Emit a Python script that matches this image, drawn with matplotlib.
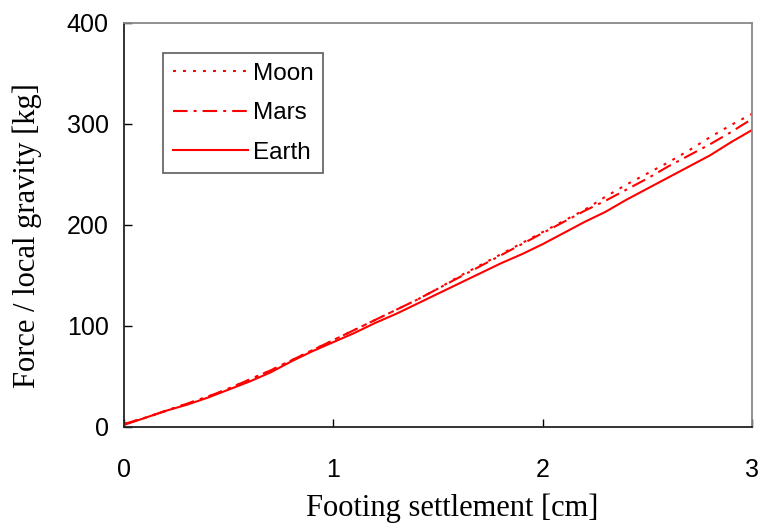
import matplotlib
matplotlib.use('Agg')
import matplotlib.pyplot as plt

# settlement [cm]
settlement = [0.0, 0.1, 0.2, 0.3, 0.4, 0.5, 0.6, 0.7, 0.8, 0.9, 1.0,
              1.1, 1.2, 1.3, 1.4, 1.5, 1.6, 1.7, 1.8, 1.9, 2.0,
              2.1, 2.2, 2.3, 2.4, 2.5, 2.6, 2.7, 2.8, 2.9, 3.0]

# force / local gravity [kg]
moon = [3, 9, 16, 23, 30, 38, 47, 56, 66, 76, 86,
        96, 106, 116, 126, 137, 149, 160, 171, 182, 193,
        204, 215, 228, 240, 251, 262, 274, 287, 299, 310]
mars = [3, 9, 16, 23, 30, 38, 47, 56, 66, 76, 86,
        96, 106, 116, 126, 137, 148, 159, 170, 181, 192,
        203, 214, 224, 235, 246, 258, 269, 280, 292, 305]
earth = [2, 9, 16, 22, 29, 37, 45, 54, 65, 75, 84,
         93, 103, 112, 122, 132, 142, 152, 162, 171, 181,
         192, 203, 213, 225, 236, 247, 258, 269, 282, 294]

fig = plt.figure(figsize=(7.63, 5.27), dpi=100)
ax = fig.add_axes([0.1625, 0.1898, 0.8231, 0.7666])

ax.plot(settlement, moon, color='red', lw=1.5, linestyle=(0, (1.4, 3.4)), label='Moon')
ax.plot(settlement, mars, color='red', lw=1.5, linestyle=(0, (7, 2.9, 1.4, 2.9)), label='Mars')
ax.plot(settlement, earth, color='red', lw=1.5, linestyle='-', label='Earth')

ax.set_xlim(0, 3)
ax.set_ylim(0, 400)
ax.set_xticks([0, 1, 2, 3])
ax.set_yticks([0, 100, 200, 300, 400])

ax.tick_params(direction='in', length=6, width=1, labelsize=18)
ax.tick_params(axis='x', pad=22)
ax.tick_params(axis='y', pad=11)
for lab in ax.get_xticklabels() + ax.get_yticklabels():
    lab.set_family('Liberation Sans')

ax.spines['left'].set_color('#222222')
ax.spines['bottom'].set_color('#222222')
ax.spines['top'].set_color('#888888')
ax.spines['right'].set_color('#888888')
for s in ax.spines.values():
    s.set_linewidth(1.3)

ax.set_xlabel('Footing settlement [cm]', family='Liberation Serif', fontsize=22)
ax.set_ylabel('Force / local gravity [kg]', family='Liberation Serif', fontsize=22)
ax.xaxis.set_label_coords(0.523, -0.165)
ax.yaxis.set_label_coords(-0.131, 0.475)

leg = ax.legend(loc='upper left', bbox_to_anchor=(0.062, 0.926), borderaxespad=0,
                frameon=True, fancybox=False, edgecolor='#333333',
                prop={'family': 'Liberation Sans', 'size': 17.5},
                handlelength=3.1, handletextpad=0.2, labelspacing=0.72, borderpad=0.4)
leg.get_frame().set_linewidth(1.2)

plt.savefig('out.png', dpi=100)
